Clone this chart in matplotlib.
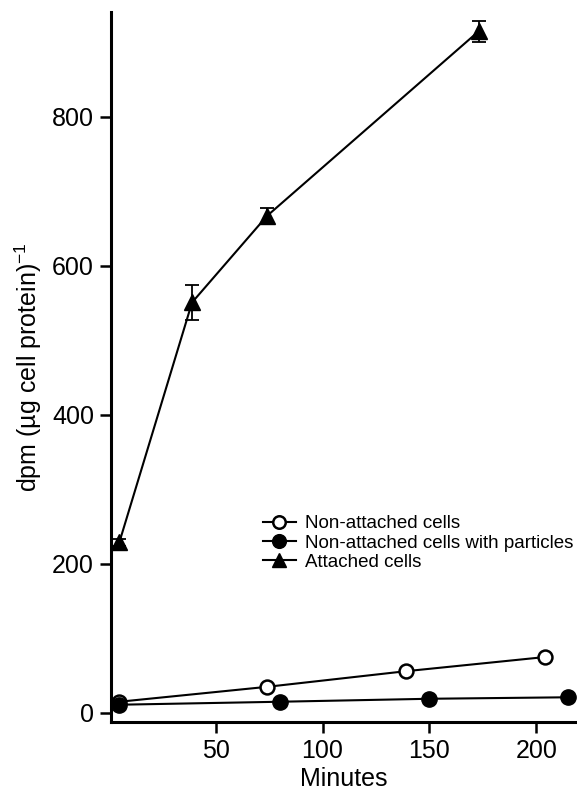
import matplotlib
matplotlib.use("Agg")
import matplotlib.pyplot as plt

plt.rcParams['font.family'] = ['Liberation Sans', 'DejaVu Sans']
plt.rcParams['mathtext.fontset'] = 'custom'
plt.rcParams['mathtext.rm'] = 'Liberation Sans'

# data (minutes, dpm per ug cell protein)
open_x = [5, 74, 139, 204]
open_y = [15, 35, 56, 75]

filled_x = [5, 80, 150, 215]
filled_y = [11, 15, 19, 21]

tri_x = [5, 39, 74, 173]
tri_y = [229, 551, 667, 915]
tri_err = [5, 24, 11, 14]

x_ticks = [50, 100, 150, 200]
y_ticks = [0, 200, 400, 600, 800]

fig = plt.figure(figsize=(5.77, 7.95), dpi=100)
ax = fig.add_axes([0.192, 0.092, 0.808, 0.893])

l1, = ax.plot(open_x, open_y, '-o', color='black', mfc='white', mec='black',
              mew=1.8, ms=10, lw=1.5, zorder=3)
l2, = ax.plot(filled_x, filled_y, '-o', color='black', ms=11, lw=1.5, zorder=3)
eb = ax.errorbar(tri_x, tri_y, yerr=tri_err, fmt='-^', color='black', ms=11,
                 lw=1.5, elinewidth=1.3, capsize=5, capthick=1.3, zorder=3)

ax.set_xlim(1, 219)
ax.set_ylim(-12, 941)
ax.set_xticks(x_ticks)
ax.set_yticks(y_ticks)

for side in ['top', 'right']:
    ax.spines[side].set_visible(False)
for side in ['left', 'bottom']:
    ax.spines[side].set_linewidth(2.2)

ax.tick_params(direction='out', length=8, width=1.8, labelsize=18, pad=4)
ax.set_xlabel('Minutes', fontsize=18, labelpad=3)
ax.set_ylabel('dpm (\u00b5g cell protein)$^{-1}$', fontsize=18, labelpad=6)

ax.legend([l1, l2, eb[0]],
          ['Non-attached cells', 'Non-attached cells with particles', 'Attached cells'],
          loc='upper left', bbox_to_anchor=(0.455, 0.352),
          bbox_transform=fig.transFigure, frameon=False, fontsize=13.5,
          handlelength=1.8, handletextpad=0.45, labelspacing=0.12,
          borderaxespad=0, borderpad=0, markerscale=0.9)

fig.savefig('out.png', dpi=100)
